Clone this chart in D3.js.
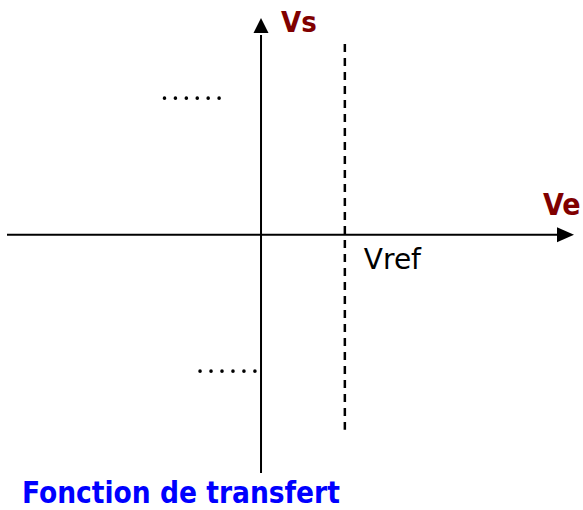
<!DOCTYPE html>
<html>
<head>
<meta charset="utf-8">
<script src="https://cdn.jsdelivr.net/npm/d3@7"></script>
<style>
  body { margin: 0; background: #fff; }
  .bold { font-family: "DejaVu Sans Condensed", "DejaVu Sans", sans-serif; font-stretch: condensed; font-weight: bold; }
</style>
</head>
<body>
<div class="chart"></div>
<script>
// axis names and extents (arbitrary units)
var axisNames = ["Ve", "Vs"];
var xDomain = [-10, 12.4];
var yDomain = [-11, 10];

// threshold voltage and the dashed line extent
var vrefName = ["Vref"];
var vrefValue = [3.3];
var vrefSpan = [-9.0, 8.8];

// "......" placeholders for the two output levels
var levelValues = [6.3, -6.3];
var levelFrom = [-3.8, -2.4];
var levelTo = [-1.65, -0.24];

var title = ["Fonction de transfert"];

var width = 583,
    height = 510;

var x = d3.scaleLinear().domain(xDomain).range([7, 576]);
var y = d3.scaleLinear().domain(yDomain).range([473, 18]);

var svg = d3.select(".chart")
    .append("svg")
    .attr("width", width)
    .attr("height", height);

// dashed vertical line at Vref
svg.append("line")
    .attr("x1", x(vrefValue[0]))
    .attr("x2", x(vrefValue[0]))
    .attr("y1", y(vrefSpan[1]))
    .attr("y2", y(vrefSpan[0]))
    .attr("stroke", "#000")
    .attr("stroke-width", 2.5)
    .attr("stroke-dasharray", "8,6");

// horizontal axis + arrow
var arrowLen = 17, arrowHalf = 7.5;
svg.append("line")
    .attr("x1", x(xDomain[0]))
    .attr("x2", x(xDomain[1]) - arrowLen)
    .attr("y1", y(0))
    .attr("y2", y(0))
    .attr("stroke", "#000")
    .attr("stroke-width", 2);
svg.append("path")
    .attr("d", "M" + (x(xDomain[1]) - 2) + "," + y(0) +
               "L" + (x(xDomain[1]) - 2 - arrowLen) + "," + (y(0) - arrowHalf) +
               "L" + (x(xDomain[1]) - 2 - arrowLen) + "," + (y(0) + arrowHalf) + "Z")
    .attr("fill", "#000");

// vertical axis + arrow
svg.append("line")
    .attr("x1", x(0))
    .attr("x2", x(0))
    .attr("y1", y(yDomain[0]))
    .attr("y2", y(yDomain[1]) + arrowLen)
    .attr("stroke", "#000")
    .attr("stroke-width", 2);
svg.append("path")
    .attr("d", "M" + x(0) + "," + y(yDomain[1]) +
               "L" + (x(0) - arrowHalf) + "," + (y(yDomain[1]) + arrowLen - 2) +
               "L" + (x(0) + arrowHalf) + "," + (y(yDomain[1]) + arrowLen - 2) + "Z")
    .attr("fill", "#000");

// dotted placeholders
svg.append("g")
    .selectAll("line")
    .data(levelValues)
    .enter().append("line")
    .attr("x1", function(d, i) { return x(levelFrom[i]); })
    .attr("x2", function(d, i) { return x(levelTo[i]) + 1; })
    .attr("y1", function(d) { return y(d); })
    .attr("y2", function(d) { return y(d); })
    .attr("stroke", "#000")
    .attr("stroke-width", 3.6)
    .attr("stroke-linecap", "round")
    .attr("stroke-dasharray", function(d, i) {
        return "0," + ((x(levelTo[i]) - x(levelFrom[i])) / 5);
    });

// axis names
svg.append("text")
    .attr("class", "bold")
    .attr("x", x(xDomain[1]) - 33)
    .attr("y", y(0) - 20)
    .attr("font-size", 30)
    .attr("fill", "#800000")
    .text(axisNames[0]);

svg.append("text")
    .attr("class", "bold")
    .attr("x", x(0) + 20)
    .attr("y", 32)
    .attr("font-size", 29)
    .attr("fill", "#800000")
    .text(axisNames[1]);

// Vref label
svg.append("text")
    .attr("x", x(vrefValue[0]) + 19)
    .attr("y", y(0) + 34)
    .attr("font-family", "DejaVu Sans, sans-serif")
    .attr("font-size", 28)
    .attr("fill", "#000")
    .text(vrefName[0]);

// title
svg.append("text")
    .attr("class", "bold")
    .attr("x", 22)
    .attr("y", 503)
    .attr("font-size", 29.5)
    .attr("fill", "#0000ff")
    .text(title[0]);
</script>
</body>
</html>
